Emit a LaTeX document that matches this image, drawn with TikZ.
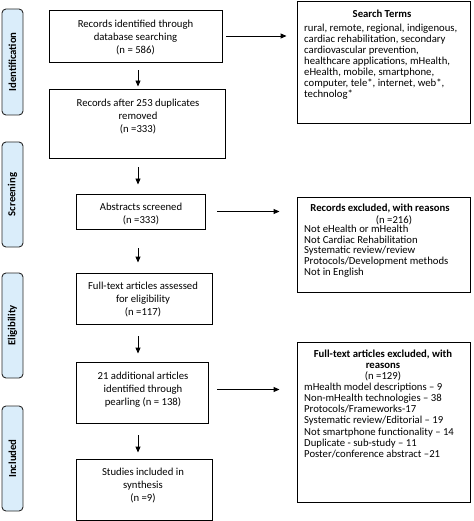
\documentclass[tikz,border=0pt]{standalone}
\usepackage{fontspec}
\setmainfont{Carlito}
\usetikzlibrary{arrows.meta}
\definecolor{phasefill}{RGB}{218,237,250}
\definecolor{phasedraw}{RGB}{40,40,40}
\begin{document}
\begin{tikzpicture}[x=1pt,y=-1pt,
  box/.style={draw=black, line width=0.9pt, inner sep=0pt},
  txt/.style={inner sep=0pt, align=center, font=\fontsize{10.7}{12.7}\selectfont},
  rtitle/.style={inner sep=0pt, align=center, font=\fontsize{10.7}{11.1}\selectfont},
  lst/.style={inner sep=0pt, align=left, font=\fontsize{10.7}{11}\selectfont},
  phase/.style={draw=phasedraw, fill=phasefill, line width=0.9pt, rounded corners=4pt,
    inner sep=0pt, rotate=90, minimum height=21, font=\fontsize{10.7}{12}\selectfont\bfseries},
  arr/.style={-{Triangle[length=6pt,width=5pt]}, line width=0.9pt, draw=black}]
\useasboundingbox (0,0) rectangle (473,521);

% phase labels
\node[phase, minimum width=106] (p1) at (12.5,62) {Identification};
\node[phase, minimum width=105] (p2) at (12.5,194.5) {Screening};
\node[phase, minimum width=105] (p3) at (12.5,325.5) {Eligibility};
\node[phase, minimum width=105] (p4) at (12.5,458.5) {Included};

% main boxes
\node[box, minimum width=173, minimum height=52] (b1) at (135.5,36) {};
\node[box, minimum width=176, minimum height=69] (b2) at (137,123.5) {};
\node[box, minimum width=129, minimum height=35] (b3) at (140.5,211.5) {};
\node[box, minimum width=136, minimum height=51] (b4) at (144,298.5) {};
\node[box, minimum width=132, minimum height=61] (b5) at (142,392.5) {};
\node[box, minimum width=136, minimum height=61] (b6) at (144,489.5) {};

\node[txt, anchor=north] (b1t) at (135.5,20) {Records identified through\\database searching\\(n = 586)};
\node[txt, anchor=north] (b2t) at (138,99) {Records after 253 duplicates\\removed\\(n =333)};
\node[txt, anchor=north] (b3t) at (141,203) {Abstracts screened\\(n =333)};
\node[txt, anchor=north] (b4t) at (143,282) {Full-text articles assessed\\for eligibility\\(n =117)};
\node[txt, anchor=north] (b5t) at (143,372) {21 additional articles\\identified through\\pearling (n = 138)};
\node[txt, anchor=north] (b6t) at (143,468) {Studies included in\\synthesis\\(n =9)};

% right boxes
\node[box, minimum width=173, minimum height=122] (st) at (383.5,62) {};
\node[box, minimum width=173, minimum height=95] (ex1) at (383.5,244.5) {};
\node[box, minimum width=173, minimum height=160] (ex2) at (383.5,422) {};

\node[rtitle, anchor=north, font=\fontsize{10.7}{11}\selectfont\bfseries] (stt) at (382,10) {Search Terms};
\node[lst, anchor=north west] (stl) at (304,24) {rural, remote, regional, indigenous,\\cardiac rehabilitation, secondary\\cardiovascular prevention,\\healthcare applications, mHealth,\\eHealth, mobile, smartphone,\\computer, tele*, internet, web*,\\technolog*};

\node[rtitle, anchor=north, font=\fontsize{10.7}{11}\selectfont\bfseries] (ex1t) at (380,204) {Records excluded, with reasons};
\node[rtitle, anchor=north] (ex1n) at (394,215) {(n =216)};
\node[lst, anchor=north west, font=\fontsize{10.7}{10.6}\selectfont] (ex1l) at (304,225) {Not eHealth or mHealth\\Not Cardiac Rehabilitation\\Systematic review/review\\Protocols/Development methods\\Not in English};

\node[rtitle, anchor=north] (ex2t) at (383,350) {\textbf{Full-text articles excluded, with}\\\textbf{reasons}\\(n =129)};
\node[lst, anchor=north west, font=\fontsize{10.7}{11.1}\selectfont] (ex2l) at (304,383) {mHealth model descriptions -- 9\\Non-mHealth technologies -- 38\\Protocols/Frameworks-17\\Systematic review/Editorial -- 19\\Not smartphone functionality -- 14\\Duplicate - sub-study -- 11\\Poster/conference abstract --21};

% vertical arrows
\coordinate (ax) at (138,0);
\draw[arr, shorten <=8pt, shorten >=2pt] (b1.south -| ax) -- (b2.north -| ax);
\draw[arr, shorten <=9pt, shorten >=9pt] (b2.south -| ax) -- (b3.north -| ax);
\draw[arr, shorten <=19pt, shorten >=10pt] (b3.south -| ax) -- (b4.north -| ax);
\draw[arr, shorten <=12pt, shorten >=8pt] (b4.south -| ax) -- (b5.north -| ax);
\draw[arr, shorten <=12pt, shorten >=6pt] (b5.south -| ax) -- (b6.north -| ax);

% horizontal arrows
\draw[arr, shorten <=4pt, shorten >=10pt] (b1.east) -- (b1.east -| st.west);
\draw[arr, shorten <=12pt, shorten >=17pt] (b3.east) -- (b3.east -| ex1.west);
\draw[arr, shorten <=9pt, shorten >=17pt] ([yshift=3pt]b5.east) -- ([yshift=3pt]b5.east -| ex2.west);
\end{tikzpicture}
\end{document}
